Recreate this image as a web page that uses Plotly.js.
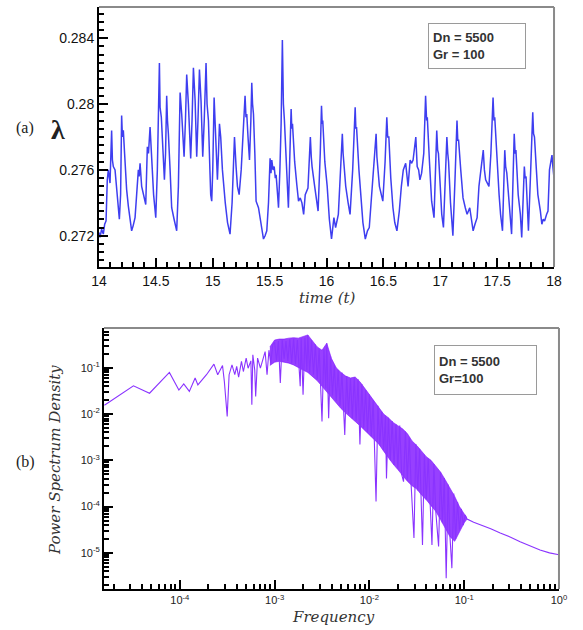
<!DOCTYPE html>
<html>
<head>
<meta charset="utf-8">
<script src="https://cdn.plot.ly/plotly-3.0.1.min.js"></script>
</head>
<body style="margin:0">
<div id="chart" style="width:583px;height:630px"></div>
<script>
// ---- Panel (a): time series of lambda ----
const timeT = [
  14.000,14.009,14.023,14.038,14.050,14.062,14.073,14.082,14.097,14.111,14.118,14.126,14.141,14.170,14.179,14.190,
  14.199,14.206,14.214,14.225,14.243,14.258,14.273,14.287,14.300,14.317,14.331,14.346,14.353,14.361,14.375,14.396,
  14.411,14.425,14.435,14.449,14.463,14.480,14.499,14.513,14.531,14.537,14.548,14.560,14.575,14.585,14.595,14.602,
  14.610,14.625,14.639,14.660,14.683,14.698,14.713,14.727,14.740,14.748,14.760,14.771,14.786,14.796,14.806,14.818,
  14.830,14.845,14.852,14.859,14.870,14.883,14.897,14.905,14.912,14.925,14.941,14.950,14.962,14.975,14.982,14.991,
  15.000,15.012,15.020,15.026,15.041,15.050,15.059,15.070,15.085,15.110,15.130,15.152,15.170,15.191,15.198,15.205,
  15.217,15.232,15.250,15.270,15.284,15.292,15.299,15.310,15.323,15.335,15.343,15.350,15.358,15.370,15.381,15.402,
  15.420,15.446,15.460,15.475,15.490,15.504,15.512,15.519,15.530,15.540,15.550,15.557,15.570,15.578,15.590,15.601,
  15.612,15.621,15.630,15.650,15.665,15.689,15.695,15.701,15.720,15.739,15.754,15.769,15.784,15.799,15.813,15.837,
  15.850,15.858,15.866,15.873,15.896,15.926,15.945,15.956,15.962,15.967,15.985,16.006,16.025,16.044,16.065,16.080,
  16.104,16.119,16.139,16.146,16.154,16.169,16.190,16.207,16.230,16.252,16.258,16.264,16.285,16.302,16.320,16.341,
  16.360,16.376,16.395,16.406,16.436,16.443,16.450,16.465,16.495,16.515,16.530,16.538,16.548,16.565,16.584,16.600,
  16.619,16.640,16.658,16.675,16.696,16.717,16.735,16.747,16.761,16.785,16.797,16.810,16.821,16.836,16.855,16.871,
  16.880,16.886,16.905,16.924,16.945,16.969,16.977,16.984,17.000,17.013,17.028,17.045,17.058,17.066,17.073,17.090,
  17.111,17.130,17.147,17.154,17.161,17.180,17.200,17.220,17.236,17.259,17.275,17.289,17.305,17.324,17.340,17.354,
  17.378,17.388,17.399,17.428,17.445,17.464,17.472,17.479,17.500,17.517,17.530,17.547,17.567,17.575,17.585,17.606,
  17.627,17.650,17.658,17.665,17.685,17.704,17.716,17.739,17.746,17.754,17.775,17.795,17.813,17.820,17.828,17.845,
  17.858,17.880,17.893,17.905,17.917,17.935,17.947,17.960,17.970,17.982,17.990,18.000
];
const lambdaVals = [
  0.2722,0.2719,0.2724,0.2721,0.2727,0.2729,0.2754,0.2760,0.2752,0.2784,0.2766,0.2762,0.2760,0.2733,0.2730,0.2745,
  0.2793,0.2780,0.2784,0.2770,0.2748,0.2738,0.2729,0.2723,0.2726,0.2731,0.2745,0.2760,0.2756,0.2764,0.2750,0.2744,
  0.2739,0.2774,0.2770,0.2786,0.2770,0.2745,0.2731,0.2760,0.2825,0.2798,0.2792,0.2778,0.2754,0.2770,0.2805,0.2790,
  0.2782,0.2760,0.2737,0.2730,0.2723,0.2750,0.2807,0.2794,0.2780,0.2768,0.2790,0.2818,0.2800,0.2780,0.2767,0.2790,
  0.2822,0.2802,0.2785,0.2768,0.2790,0.2821,0.2802,0.2785,0.2768,0.2790,0.2825,0.2800,0.2790,0.2760,0.2745,0.2741,
  0.2760,0.2804,0.2790,0.2782,0.2754,0.2770,0.2788,0.2780,0.2760,0.2740,0.2728,0.2721,0.2740,0.2780,0.2768,0.2762,
  0.2750,0.2745,0.2760,0.2790,0.2805,0.2792,0.2794,0.2780,0.2766,0.2790,0.2813,0.2800,0.2794,0.2770,0.2741,0.2737,
  0.2728,0.2718,0.2720,0.2723,0.2740,0.2767,0.2758,0.2766,0.2760,0.2762,0.2755,0.2757,0.2745,0.2737,0.2760,0.2788,
  0.2839,0.2800,0.2790,0.2755,0.2737,0.2797,0.2785,0.2788,0.2765,0.2751,0.2741,0.2743,0.2740,0.2733,0.2745,0.2749,
  0.2765,0.2780,0.2768,0.2762,0.2750,0.2735,0.2770,0.2799,0.2788,0.2790,0.2765,0.2750,0.2730,0.2718,0.2731,0.2725,
  0.2733,0.2757,0.2782,0.2770,0.2762,0.2750,0.2740,0.2733,0.2760,0.2798,0.2785,0.2786,0.2760,0.2745,0.2728,0.2718,
  0.2723,0.2725,0.2745,0.2750,0.2782,0.2768,0.2762,0.2750,0.2741,0.2765,0.2792,0.2780,0.2780,0.2755,0.2737,0.2728,
  0.2723,0.2735,0.2750,0.2760,0.2764,0.2750,0.2766,0.2764,0.2766,0.2780,0.2762,0.2760,0.2754,0.2758,0.2770,0.2805,
  0.2790,0.2792,0.2765,0.2741,0.2731,0.2784,0.2772,0.2770,0.2750,0.2733,0.2725,0.2760,0.2780,0.2770,0.2765,0.2740,
  0.2720,0.2755,0.2790,0.2778,0.2778,0.2760,0.2743,0.2737,0.2733,0.2737,0.2728,0.2723,0.2727,0.2731,0.2750,0.2757,
  0.2772,0.2760,0.2754,0.2750,0.2770,0.2804,0.2790,0.2792,0.2762,0.2745,0.2733,0.2723,0.2772,0.2762,0.2758,0.2737,
  0.2721,0.2782,0.2770,0.2772,0.2745,0.2733,0.2719,0.2762,0.2755,0.2756,0.2723,0.2760,0.2795,0.2782,0.2780,0.2760,
  0.2745,0.2735,0.2727,0.2730,0.2729,0.2733,0.2735,0.2760,0.2764,0.2769,0.2762,0.2755
];

// ---- Panel (b): power spectrum density ----
const psdFreq = [
  1.6e-5,3.24e-5,4.79e-5,7.76e-5,9.77e-5,1.10e-4,1.26e-4,1.45e-4,1.55e-4,1.91e-4,2.29e-4,2.51e-4,2.82e-4,2.95e-4,
  3.16e-4,3.31e-4,3.55e-4,3.80e-4,3.98e-4,4.17e-4,4.47e-4,4.68e-4,5.01e-4,5.25e-4,5.62e-4,5.75e-4,5.89e-4,6.17e-4,
  6.31e-4,6.61e-4,7.08e-4,7.59e-4,7.94e-4,8.32e-4,8.71e-4,9.12e-4,9.55e-4,
  1.000e-3,1.047e-3,1.096e-3,1.148e-3,1.202e-3,1.259e-3,1.318e-3,1.380e-3,1.445e-3,1.514e-3,1.585e-3,1.660e-3,
  1.738e-3,1.862e-3,1.905e-3,1.995e-3,2.089e-3,2.188e-3,2.239e-3,2.344e-3,2.455e-3,2.570e-3,2.692e-3,2.818e-3,
  2.951e-3,3.162e-3,3.311e-3,3.467e-3,3.548e-3,3.715e-3,3.890e-3,4.074e-3,4.266e-3,4.467e-3,4.677e-3,4.898e-3,
  5.129e-3,5.495e-3,5.754e-3,6.026e-3,6.310e-3,6.607e-3,6.918e-3,7.244e-3,7.586e-3,7.943e-3,8.318e-3,8.710e-3,
  9.120e-3,9.550e-3,0.01000,0.01047,0.01096,0.01175,0.01230,0.01288,0.01349,0.01413,0.01479,0.01514,0.01585,
  0.01660,0.01738,0.01820,0.01905,0.01995,0.02089,0.02188,0.02291,0.02399,0.02512,0.02630,0.02754,0.02951,
  0.03090,0.03236,0.03388,0.03631,0.03802,0.03981,0.04169,0.04365,0.04571,0.04786,0.05012,0.05370,0.05623,
  0.05888,0.06166,0.06457,0.06761,0.07079,0.07413,0.07762,0.08128,0.08511,0.08913,0.09333,0.09772,0.1023,0.1072,
  0.1259,0.1479,0.1905,0.2399,0.3090,0.3890,0.5012,0.6310,0.7943,1.0
];
const psdPower = [
  0.0155,0.0407,0.0282,0.0794,0.0331,0.0447,0.0309,0.0603,0.0427,0.0708,0.120,0.0708,0.112,0.0501,
  0.0089,0.0708,0.115,0.0708,0.107,0.063,0.138,0.083,0.162,0.098,0.141,0.0158,0.19,0.089,
  0.024,0.162,0.098,0.178,0.224,0.0708,0.24,0.126,0.316,
  0.355,0.141,0.380,0.0468,0.398,0.158,0.380,0.141,0.417,0.126,0.427,0.120,
  0.398,0.0398,0.437,0.0263,0.447,0.0891,0.513,0.0794,0.398,0.0708,0.316,0.0562,
  0.251,0.00692,0.251,0.0355,0.339,0.00813,0.178,0.0251,0.112,0.0191,0.0891,0.0151,
  0.0794,0.00355,0.0661,0.0100,0.0603,0.00794,0.0631,0.00708,0.0562,0.00219,0.0447,0.00501,
  0.0331,0.00398,0.0263,0.00331,0.0200,1.29e-4,0.0151,0.00209,0.0112,0.00166,0.00891,4.07e-4,0.00832,
  0.00100,0.00708,7.94e-4,0.00603,6.61e-4,0.00562,5.01e-4,3.47e-4,0.00417,3.80e-4,0.00316,3.02e-4,2.09e-5,
  0.00224,2.24e-4,0.00178,1.48e-5,0.00132,1.41e-4,0.00110,1.12e-4,1.48e-5,8.32e-4,7.94e-5,1.38e-5,5.62e-4,
  4.47e-5,4.17e-4,2.82e-6,3.02e-4,2.24e-5,4.68e-6,1.91e-4,2.00e-5,1.26e-4,3.16e-5,8.91e-5,3.98e-5,6.61e-5,5.37e-5,
  4.57e-5,4.07e-5,3.31e-5,2.69e-5,2.19e-5,1.74e-5,1.41e-5,1.15e-5,1.00e-5,9.12e-6
];
// dense band of the spectrum: upper and lower edges
const bandFreq = [
  8.91e-4,1.000e-3,1.122e-3,1.259e-3,1.413e-3,1.585e-3,1.778e-3,1.995e-3,2.239e-3,2.512e-3,2.818e-3,3.162e-3,
  3.548e-3,3.981e-3,4.467e-3,5.012e-3,5.623e-3,6.310e-3,7.079e-3,7.943e-3,8.913e-3,0.01,0.01122,0.01259,0.01413,
  0.01585,0.01778,0.01995,0.02239,0.02512,0.02818,0.03162,0.03548,0.03981,0.04467,0.05012,0.05623,0.0631,0.07079,
  0.07943,0.08913,0.1,0.1072
];
const bandUpper = [
  0.282,0.398,0.417,0.417,0.437,0.447,0.437,0.468,0.513,0.380,0.282,0.240,
  0.339,0.158,0.100,0.0794,0.0661,0.0603,0.0631,0.0501,0.0355,0.0263,0.0191,0.0141,0.0100,
  0.00832,0.00661,0.00562,0.00479,0.00380,0.00263,0.00209,0.00158,0.00120,0.00100,7.59e-4,5.62e-4,3.80e-4,2.51e-4,
  1.66e-4,1.00e-4,7.08e-5,5.62e-5
];
const bandLower = [
  0.112,0.132,0.138,0.132,0.126,0.115,0.100,0.0891,0.0794,0.0661,0.0525,0.0398,
  0.0302,0.0224,0.0174,0.0132,0.0105,0.00832,0.00692,0.00562,0.00447,0.00355,0.00282,0.00224,0.00158,
  0.00112,8.32e-4,6.31e-4,4.68e-4,3.55e-4,2.82e-4,2.40e-4,1.78e-4,1.41e-4,1.05e-4,7.94e-5,5.25e-5,3.55e-5,2.24e-5,
  1.78e-5,2.82e-5,4.47e-5,5.37e-5
];
const freqTickVals = [1e-4, 1e-3, 1e-2, 1e-1, 1];
const freqTickText = ['10<sup>-4</sup>', '10<sup>-3</sup>', '10<sup>-2</sup>', '10<sup>-1</sup>', '10<sup>0</sup>'];
const psdTickVals = [1e-5, 1e-4, 1e-3, 1e-2, 1e-1];
const psdTickText = ['10<sup>-5</sup>', '10<sup>-4</sup>', '10<sup>-3</sup>', '10<sup>-2</sup>', '10<sup>-1</sup>'];

const traces = [
  { x: timeT, y: lambdaVals, xaxis: 'x', yaxis: 'y', mode: 'lines',
    line: { color: '#3e3ef0', width: 1.5 } },
  { x: bandFreq, y: bandLower, xaxis: 'x2', yaxis: 'y2', mode: 'lines',
    line: { color: '#7d10ff', width: 0.6 } },
  { x: bandFreq, y: bandUpper, xaxis: 'x2', yaxis: 'y2', mode: 'lines',
    fill: 'tonexty', fillcolor: 'rgba(125,16,255,0.8)',
    line: { color: '#7d10ff', width: 0.6 } },
  { x: psdFreq, y: psdPower, xaxis: 'x2', yaxis: 'y2', mode: 'lines',
    line: { color: '#8a33ff', width: 1.1 } }
];

const labelFont = { family: 'DejaVu Serif, serif', size: 15, color: '#333', style: 'italic' };

const layout = {
  width: 583, height: 630,
  margin: { l: 0, r: 0, t: 0, b: 0 },
  showlegend: false,
  xaxis: {
    domain: [0.1698, 0.9503], anchor: 'y', range: [14, 18], dtick: 0.5,
    showline: true, linecolor: '#000', linewidth: 2, showgrid: false, zeroline: false,
    ticks: 'inside', ticklen: 9, tickwidth: 2, tickcolor: '#000',
    minor: { ticks: 'inside', ticklen: 5, tickcolor: '#000', dtick: 0.1 },
    tickfont: { family: 'Arial', size: 14, color: '#111' }
  },
  yaxis: {
    domain: [0.5762, 0.9889], anchor: 'x', range: [0.2701, 0.2859], tick0: 0.272, dtick: 0.004,
    showline: true, linecolor: '#000', linewidth: 2, showgrid: false, zeroline: false,
    ticks: 'inside', ticklen: 9, tickwidth: 2, tickcolor: '#000',
    minor: { ticks: 'inside', ticklen: 5, tickcolor: '#000', dtick: 0.0005 },
    tickfont: { family: 'Arial', size: 14, color: '#111' }
  },
  xaxis2: {
    domain: [0.1784, 0.9588], anchor: 'y2', type: 'log', range: [-4.8, 0],
    tickvals: freqTickVals, ticktext: freqTickText,
    showline: true, linecolor: '#000', linewidth: 2, showgrid: false, zeroline: false,
    ticks: 'inside', ticklen: 9, tickwidth: 2, tickcolor: '#000',
    minor: { ticks: 'inside', ticklen: 5, tickcolor: '#000', dtick: 'D1' },
    tickfont: { family: 'Arial', size: 11, color: '#222' }
  },
  yaxis2: {
    domain: [0.0651, 0.4794], anchor: 'x2', type: 'log', range: [-5.78, -0.14],
    tickvals: psdTickVals, ticktext: psdTickText,
    showline: true, linecolor: '#000', linewidth: 2, showgrid: false, zeroline: false,
    ticks: 'inside', ticklen: 9, tickwidth: 2, tickcolor: '#000',
    minor: { ticks: 'inside', ticklen: 5, tickcolor: '#000', dtick: 'D1' },
    tickfont: { family: 'Arial', size: 11, color: '#222' }
  },
  shapes: [
    { type: 'line', xref: 'x domain', yref: 'y domain', x0: 0, x1: 1, y0: 1, y1: 1, line: { color: '#8a8a8a', width: 2 } },
    { type: 'line', xref: 'x domain', yref: 'y domain', x0: 1, x1: 1, y0: 0, y1: 1, line: { color: '#8a8a8a', width: 2 } },
    { type: 'line', xref: 'x2 domain', yref: 'y2 domain', x0: 0, x1: 1, y0: 1, y1: 1, line: { color: '#8a8a8a', width: 2 } },
    { type: 'line', xref: 'x2 domain', yref: 'y2 domain', x0: 1, x1: 1, y0: 0, y1: 1, line: { color: '#8a8a8a', width: 2 } }
  ],
  annotations: [
    { xref: 'paper', yref: 'paper', x: 0.819, y: 0.927, xanchor: 'center', yanchor: 'middle',
      text: '<b>Dn = 5500<br>Gr = 100</b>', align: 'left', showarrow: false,
      font: { family: 'Arial', size: 13, color: '#333' },
      bordercolor: '#9a9a9a', borderwidth: 1, borderpad: 4, bgcolor: '#fff', width: 88, height: 36 },
    { xref: 'paper', yref: 'paper', x: 0.8328, y: 0.4127, xanchor: 'center', yanchor: 'middle',
      text: '<b>Dn = 5500<br>Gr=100</b>', align: 'left', showarrow: false,
      font: { family: 'Arial', size: 13, color: '#333' },
      bordercolor: '#9a9a9a', borderwidth: 1, borderpad: 4, bgcolor: '#fff', width: 93, height: 40 },
    { xref: 'paper', yref: 'paper', x: 0.0429, y: 0.7968, xanchor: 'center', yanchor: 'middle',
      text: '(a)', showarrow: false, font: { family: 'Liberation Serif, serif', size: 16, color: '#222' } },
    { xref: 'paper', yref: 'paper', x: 0.0995, y: 0.7937, xanchor: 'center', yanchor: 'middle',
      text: '<b>λ</b>', showarrow: false, font: { family: 'Liberation Serif, serif', size: 28, color: '#222' } },
    { xref: 'paper', yref: 'paper', x: 0.5609, y: 0.5270, xanchor: 'center', yanchor: 'middle',
      text: 'time (t)', showarrow: false, font: labelFont },
    { xref: 'paper', yref: 'paper', x: 0.0429, y: 0.2667, xanchor: 'center', yanchor: 'middle',
      text: '(b)', showarrow: false, font: { family: 'Liberation Serif, serif', size: 16, color: '#222' } },
    { xref: 'paper', yref: 'paper', x: 0.0943, y: 0.2698, xanchor: 'center', yanchor: 'middle',
      text: 'Power Spectrum Density', textangle: -90, showarrow: false, font: labelFont },
    { xref: 'paper', yref: 'paper', x: 0.5712, y: 0.0205, xanchor: 'center', yanchor: 'middle',
      text: 'Frequency', showarrow: false, font: labelFont }
  ]
};

Plotly.newPlot('chart', traces, layout, { staticPlot: true });
</script>
</body>
</html>
